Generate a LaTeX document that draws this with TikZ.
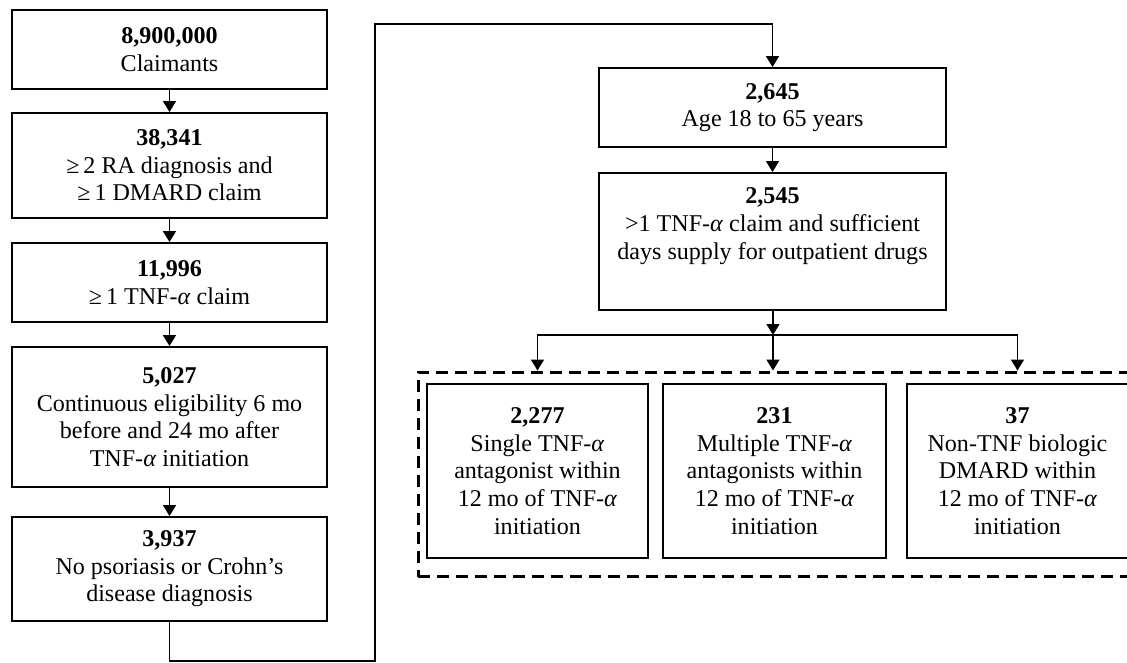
\documentclass[tikz,border=0pt]{standalone}
\usepackage{fontspec}
\setmainfont{Liberation Serif}
\usetikzlibrary{arrows.meta}
\newcommand{\tnfa}{TNF-\textit{α}}

\begin{document}
\begin{tikzpicture}[x=0.02cm, y=-0.02cm,
  box/.style={draw, line width=1.1pt, align=center, inner sep=2pt,
    font=\fontsize{13.7}{15.7}\selectfont},
  arr/.style={line width=0.85pt, -{Triangle[width=0.26cm, length=0.22cm]}},
  link/.style={line width=0.85pt},
  group/.style={draw, line width=1.7pt, dash pattern=on 6.8pt off 4pt}]
  \useasboundingbox (0,0) rectangle (1127,663);

  % left column
  \node [box, minimum width=6.3cm, minimum height=1.58cm] (claim) at (169.5,49.5)
    {\textbf{8,900,000}\\Claimants};
  \node [box, minimum width=6.3cm, minimum height=2.1cm] (ra) at (169.5,165.5)
    {\textbf{38,341}\\≥\,2 RA diagnosis and\\≥\,1 DMARD claim};
  \node [box, minimum width=6.3cm, minimum height=1.58cm] (tnf) at (169.5,282.5)
    {\textbf{11,996}\\≥\,1 \tnfa{} claim};
  \node [box, minimum width=6.3cm, minimum height=2.8cm] (elig) at (169.5,417)
    {\textbf{5,027}\\Continuous eligibility 6 mo\\before and 24 mo after\\\tnfa{} initiation};
  \node [box, minimum width=6.3cm, minimum height=2.08cm] (pso) at (169.5,569)
    {\textbf{3,937}\\No psoriasis or Crohn’s\\disease diagnosis};

  % right column
  \node [box, minimum width=6.94cm, minimum height=1.58cm] (age) at (772.5,107.5)
    {\textbf{2,645}\\Age 18 to 65 years};
  \node [box, minimum width=6.94cm, minimum height=2.74cm] (supply) at (772.5,241.5)
    {\textbf{2,545}\\>1 \tnfa{} claim and sufficient\\days supply for outpatient drugs\\\strut};

  % outcome groups
  \node [group, minimum width=14.38cm, minimum height=4.1cm] (grp) at (777.5,474.5) {};
  \node [box, minimum width=4.42cm, minimum height=3.48cm] (single) at (537.5,471)
    {\textbf{2,277}\\Single \tnfa\\antagonist within\\12 mo of \tnfa\\initiation};
  \node [box, minimum width=4.46cm, minimum height=3.48cm] (multi) at (774.5,471)
    {\textbf{231}\\Multiple \tnfa\\antagonists within\\12 mo of \tnfa\\initiation};
  \node [box, minimum width=4.42cm, minimum height=3.48cm] (nontnf) at (1017.5,471)
    {\textbf{37}\\Non-TNF biologic\\DMARD within\\12 mo of \tnfa\\initiation};

  \coordinate (bendlow) at (375,661);
  \coordinate (bendtop) at (375,24);
  \coordinate (hub) at (773,335);

  \draw [arr] (claim) -- (ra);
  \draw [arr] (ra) -- (tnf);
  \draw [arr] (tnf) -- (elig);
  \draw [arr] (elig) -- (pso);
  \draw [arr] (pso.south) |- (bendlow) -- (bendtop) -| (age);
  \draw [arr] (age) -- (supply);

  \draw [arr] (supply.south -| hub) -- (hub);
  \draw [arr] (hub) -- (hub |- grp.north);
  \draw [arr] (hub) -| (single.north |- grp.north);
  \draw [arr] (hub) -| (nontnf.north |- grp.north);
\end{tikzpicture}
\end{document}
